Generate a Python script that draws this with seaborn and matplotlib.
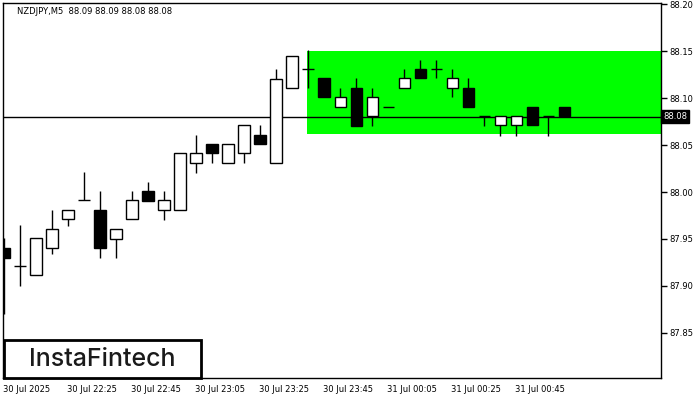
import matplotlib
matplotlib.use("Agg")
import matplotlib.pyplot as plt
from matplotlib.patches import Rectangle
import matplotlib.transforms as mtrans
import seaborn as sns
import pandas as pd

# ---- data ----
times = ["22:05", "22:10", "22:15", "22:20", "22:25", "22:30", "22:35", "22:40",
         "22:45", "22:50", "22:55", "23:00", "23:05", "23:10", "23:15", "23:20",
         "23:25", "23:30", "23:35", "23:40", "23:45", "23:50", "23:55", "00:00",
         "00:05", "00:10", "00:15", "00:20", "00:25", "00:30", "00:35", "00:40",
         "00:45", "00:50", "00:55", "01:00"]
opens = [87.940, 87.921, 87.912, 87.940, 87.971, 87.991, 87.981, 87.950,
         87.971, 88.001, 87.981, 87.981, 88.031, 88.051, 88.031, 88.041,
         88.061, 88.031, 88.111, 88.131, 88.121, 88.090, 88.111, 88.081,
         88.090, 88.111, 88.131, 88.131, 88.111, 88.111, 88.081, 88.071,
         88.071, 88.090, 88.081, 88.090]
highs = [87.951, 87.965, 87.951, 87.981, 87.981, 88.021, 88.001, 87.961,
         88.001, 88.011, 88.001, 88.041, 88.061, 88.051, 88.051, 88.071,
         88.071, 88.131, 88.145, 88.151, 88.121, 88.111, 88.121, 88.111,
         88.090, 88.131, 88.140, 88.140, 88.131, 88.121, 88.081, 88.081,
         88.081, 88.090, 88.081, 88.090]
lows = [87.870, 87.900, 87.912, 87.934, 87.964, 87.991, 87.930, 87.930,
        87.971, 87.990, 87.970, 87.981, 88.020, 88.031, 88.031, 88.031,
        88.051, 88.031, 88.111, 88.111, 88.101, 88.090, 88.070, 88.070,
        88.090, 88.111, 88.121, 88.121, 88.101, 88.090, 88.070, 88.060,
        88.060, 88.071, 88.060, 88.081]
closes = [87.930, 87.921, 87.951, 87.961, 87.981, 87.991, 87.940, 87.961,
          87.991, 87.990, 87.991, 88.041, 88.041, 88.041, 88.051, 88.071,
          88.051, 88.120, 88.145, 88.131, 88.101, 88.101, 88.070, 88.101,
          88.090, 88.121, 88.121, 88.131, 88.121, 88.090, 88.081, 88.081,
          88.081, 88.071, 88.081, 88.081]

x_tick_idx = [0, 4, 8, 12, 16, 20, 24, 28, 32]
x_tick_labels = ["30 Jul 2025", "30 Jul 22:25", "30 Jul 22:45", "30 Jul 23:05",
                 "30 Jul 23:25", "30 Jul 23:45", "31 Jul 00:05", "31 Jul 00:25",
                 "31 Jul 00:45"]
y_ticks = [87.85, 87.90, 87.95, 88.00, 88.05, 88.10, 88.15, 88.20]

title_text = "NZDJPY,M5  88.09 88.09 88.08 88.08"
current_price = 88.08
current_label = "88.08"
zone_start_idx = 19
zone_low = 88.062
zone_high = 88.15
logo_text = "InstaFintech"

df = pd.DataFrame({"time": times, "open": opens, "high": highs,
                   "low": lows, "close": closes})
df["idx"] = range(len(df))

# ---- style ----
sns.set_style("white")
plt.rcParams["font.family"] = ["DejaVu Sans"]

fig = plt.figure(figsize=(7, 4), dpi=100)
ax = fig.add_axes([3 / 700, 22 / 400, 658 / 700, 375 / 400])
ax.set_facecolor("white")

x_max = 41.06
ax.set_xlim(-0.0625, x_max)
ax.set_ylim(87.8021, 88.2011)

# pattern zone
ax.add_patch(Rectangle((zone_start_idx - 0.06, zone_low), x_max - zone_start_idx + 1,
                       zone_high - zone_low, facecolor="#00ff00", edgecolor="none",
                       zorder=1))

# current price line
ax.axhline(current_price, color="black", lw=1, zorder=2)

# candles
bw = 0.69
for _, r in df.iterrows():
    i = r["idx"]
    ax.vlines(i, r["low"], r["high"], color="black", lw=1, zorder=3)
    lo, hi = min(r["open"], r["close"]), max(r["open"], r["close"])
    if abs(hi - lo) < 1e-9:
        ax.hlines(lo, i - bw / 2, i + bw / 2, color="black", lw=1, zorder=4)
    else:
        fc = "white" if r["close"] > r["open"] else "black"
        ax.bar(i, hi - lo, bottom=lo, width=bw, color=fc, edgecolor="black",
               linewidth=1, zorder=4)

# axes / ticks
for s in ax.spines.values():
    s.set_visible(True)
    s.set_color("black")
    s.set_linewidth(1)

ax.yaxis.tick_right()
ax.set_yticks(y_ticks)
ax.set_yticklabels([f"{v:.2f}" for v in y_ticks])
ax.set_xticks(x_tick_idx)
ax.set_xticklabels(x_tick_labels, ha="left")
ax.tick_params(axis="both", direction="out", length=4, width=1, color="black",
               labelsize=6, labelcolor="black", pad=2)
ax.tick_params(axis="x", pad=1)
offset = mtrans.ScaledTranslation(-1 / 100, 0, fig.dpi_scale_trans)
for lbl in ax.get_xticklabels():
    lbl.set_transform(lbl.get_transform() + offset)

# current price label box on the right axis
ax.text(1.003, current_price, current_label, transform=ax.get_yaxis_transform(),
        ha="left", va="center", fontsize=6, color="white", zorder=6,
        bbox=dict(boxstyle="square,pad=0.25", facecolor="black", edgecolor="black"),
        clip_on=False)

# title
fig.text(17 / 700, 1 - 12 / 400, title_text, ha="left", va="center",
         fontsize=6, color="black")

# logo
fig.patches.append(Rectangle((4 / 700, 22 / 400), 197 / 700, 38 / 400,
                             transform=fig.transFigure, facecolor="white",
                             edgecolor="black", linewidth=2, zorder=10))
fig.text(102 / 700, 1 - 359 / 400, logo_text, ha="center", va="center",
         fontsize=18, fontweight="medium", color="#1a1a1a",
         family=["Inter", "DejaVu Sans"], zorder=11)

fig.savefig("out.png", dpi=100)
